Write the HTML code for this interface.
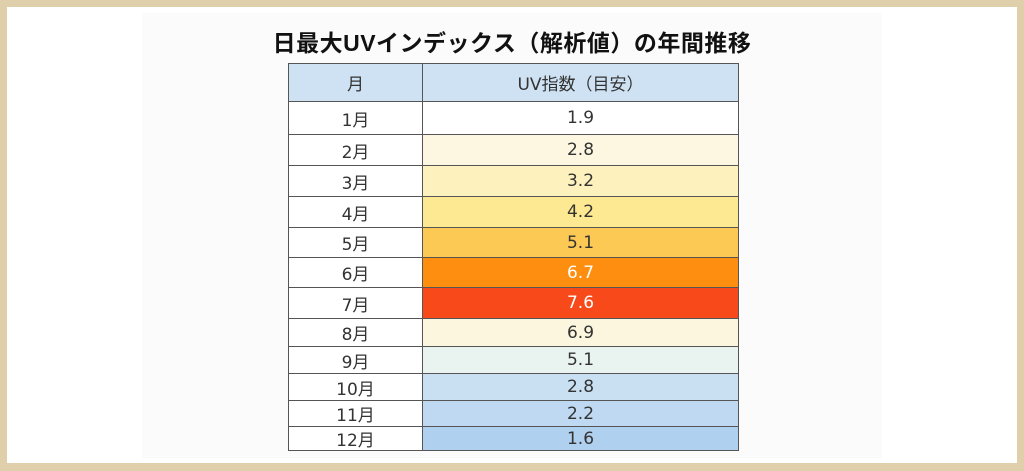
<!DOCTYPE html>
<html><head><meta charset="utf-8"><style>
*{margin:0;padding:0;box-sizing:border-box}
body{width:1024px;height:471px;background:#dfd0ab;position:relative;overflow:hidden;font-family:"Liberation Sans","Noto Sans CJK JP",sans-serif}
#in{position:absolute;left:7px;top:7px;width:1010px;height:456px;background:#fff}
#panel{position:absolute;left:142px;top:13px;width:740px;height:445px;background:#fcfbfb}
#title{position:absolute;left:0;width:1024px;top:24px;text-align:center;font-size:23px;font-weight:bold;color:#111;letter-spacing:0.5px}
.c{position:absolute;display:flex;align-items:center;justify-content:center;font-family:"DejaVu Sans","Noto Sans CJK JP",sans-serif;font-size:17px;color:#333;border:1px solid #555}
</style></head><body>
<div id="in"></div><div id="panel"></div>
<div id="title">日最大UVインデックス（解析値）の年間推移</div>
<div id="t"></div>
<script>
var b=[63,101,134,165,196,227,257,287,318,346,373,400,426,450];
var m=["月","1月","2月","3月","4月","5月","6月","7月","8月","9月","10月","11月","12月"];
var v=["UV指数（目安）","1.9","2.8","3.2","4.2","5.1","6.7","7.6","6.9","5.1","2.8","2.2","1.6"];
var col=["#cfe2f3","#ffffff","#fdf7e2","#fdf2bd","#fde992","#fdc955","#fd8e10","#f7491a","#fbf6dd","#e9f3f0","#c9e0f2","#bed9f1","#b0d0ef"];
var h="";
for(var i=0;i<13;i++){
 var t=b[i],hh=b[i+1]-b[i]+1;
 var lc=i==0?col[0]:"#fff";
 h+='<div class="c" style="left:288px;top:'+t+'px;width:135px;height:'+hh+'px;background:'+lc+'">'+m[i]+'</div>';
 var fc=(i==6||i==7)?"#fff":"#333";
 h+='<div class="c" style="left:422px;top:'+t+'px;width:317px;height:'+hh+'px;background:'+col[i]+';color:'+fc+'">'+v[i]+'</div>';
}
document.getElementById("t").innerHTML=h;
</script>
</body></html>
